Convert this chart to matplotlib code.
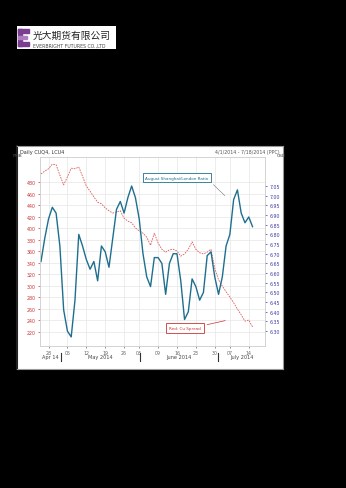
import matplotlib.pyplot as plt
from matplotlib.patches import Rectangle

plt.rcParams['font.family'] = ['DejaVu Sans']

# trading-day index, one point per day
blue_ratio = [6.66, 6.78, 6.88, 6.94, 6.91, 6.74, 6.41, 6.30, 6.27, 6.46,
              6.80, 6.74, 6.67, 6.62, 6.66, 6.56, 6.74, 6.71, 6.63, 6.78,
              6.93, 6.97, 6.91, 6.99, 7.05, 6.99, 6.88, 6.70, 6.58, 6.53,
              6.68, 6.68, 6.65, 6.49, 6.65, 6.70, 6.70, 6.56, 6.36, 6.40,
              6.57, 6.53, 6.46, 6.50, 6.69, 6.71, 6.58, 6.49, 6.58, 6.74,
              6.80, 6.98, 7.03, 6.91, 6.86, 6.89, 6.84]
red_spread = [494, 499, 503, 511, 510, 492, 475, 489, 504, 503,
              506, 490, 473, 464, 454, 445, 442, 435, 430, 426,
              428, 430, 417, 412, 409, 400, 395, 391, 384, 370,
              391, 374, 363, 358, 362, 363, 360, 351, 355, 363,
              376, 363, 357, 355, 358, 363, 330, 310, 299, 289,
              280, 270, 259, 249, 238, 240, 228]

week_ticks = [2, 7, 12, 17, 22, 26, 31, 36, 41, 46, 50, 55]
week_labels = ["28", "05", "12", "19", "26", "03", "09", "16", "23", "30", "07", "14"]
month_names = ["Apr 14", "May 2014", "June 2014", "July 2014"]
month_centers = [2.4, 15.6, 36.5, 53.2]
month_breaks = [5.3, 26.2, 46.8]

left_ticks = [480, 460, 440, 420, 400, 380, 360, 340, 320, 300, 280, 260, 240, 220]
right_ticks = [7.05, 7.00, 6.95, 6.90, 6.85, 6.80, 6.75, 6.70, 6.65, 6.60,
               6.55, 6.50, 6.45, 6.40, 6.35, 6.30]

W, H = 346, 489


def box(l, t, r, b):
    return [l / W, 1 - b / H, (r - l) / W, (b - t) / H]


fig = plt.figure(figsize=(W / 100, H / 100), dpi=100, facecolor='black')

# logo
logo = fig.add_axes(box(17, 27, 116, 50))
logo.set_xlim(0, 99)
logo.set_ylim(23, 0)
logo.set_facecolor('white')
logo.set_xticks([])
logo.set_yticks([])
for s in logo.spines.values():
    s.set_visible(False)
purple = '#7a3d8f'
logo.add_patch(Rectangle((1, 3), 4, 17, color=purple))
logo.add_patch(Rectangle((1, 3), 11, 4, color=purple))
logo.add_patch(Rectangle((1, 9.5), 9, 3.5, color='#b07cc0'))
logo.add_patch(Rectangle((1, 16), 11, 4, color=purple))
logo.text(16, 9, "光大期货有限公司", fontsize=7, color='#222222',
          family=['Noto Sans CJK SC', 'DejaVu Sans'], va='center', ha='left')
logo.text(16, 19, "EVERBRIGHT FUTURES CO.,LTD", fontsize=3.3, color='#444444',
          va='center', ha='left')

# chart panel
panel = fig.add_axes(box(17, 147, 283, 370))
panel.set_facecolor('white')
panel.set_xticks([])
panel.set_yticks([])
for s in panel.spines.values():
    s.set_color('#999999')
    s.set_linewidth(0.8)
panel.spines['left'].set_color('#222222')
panel.spines['left'].set_linewidth(1.5)

fig.text(20 / W, 1 - 152.5 / H, "Daily CUQ4, LCU4", fontsize=3.6, color='#333333',
         va='center', ha='left')
fig.text(280 / W, 1 - 152.5 / H, "4/1/2014 - 7/18/2014 (PPC)", fontsize=3.4,
         color='#555555', va='center', ha='right')

ax = fig.add_axes(box(40, 158, 265, 347))
ax2 = ax.twinx()
days = list(range(len(blue_ratio)))

ax.plot(days, red_spread, color='#e05a5a', lw=0.6, ls=(0, (2, 1.2)))
ax2.plot(days, blue_ratio, color='#1e6f8e', lw=1.0)

ax.set_xlim(-0.26, 59.3)
ax.set_ylim(194.8, 523.5)
ax2.set_ylim(6.223, 7.20)

ax.set_xticks(week_ticks)
ax.set_xticklabels(week_labels)
ax.set_yticks(left_ticks)
ax2.set_yticks(right_ticks)
ax2.set_yticklabels([f"{v:.2f}" for v in right_ticks])

ax.grid(True, color='#e6e6e6', lw=0.5)
ax.tick_params(axis='x', labelsize=3.4, colors='#666666', length=1.5, pad=1.5,
               width=0.5)
ax.tick_params(axis='y', labelsize=3.4, colors='#cc3333', length=1.5, pad=1.5,
               width=0.5)
ax2.tick_params(axis='y', labelsize=3.4, colors='#3a3aa8', length=1.5, pad=1.5,
                width=0.5)
for a in (ax, ax2):
    for s in a.spines.values():
        s.set_color('#d0d0d0')
        s.set_linewidth(0.5)

ax.text(-0.1, 1.0, "RMB", transform=ax.transAxes, fontsize=3.2, color='#444444',
        ha='center', va='bottom')
ax2.text(1.07, 1.0, "USD", transform=ax2.transAxes, fontsize=3.2, color='#444444',
         ha='center', va='bottom')

xform = ax.get_xaxis_transform()
for name, c in zip(month_names, month_centers):
    ax.text(c, -0.058, name, transform=xform, fontsize=3.6, color='#444444',
            ha='center', va='center')
for b in month_breaks:
    ax.plot([b, b], [-0.037, -0.079], transform=xform, color='#333333', lw=0.8,
            clip_on=False)

ax2.annotate("August Shanghai/London Ratio", xy=(49.2, 6.99),
             xytext=(0.609, 0.889), textcoords='axes fraction',
             fontsize=3.0, color='#1e6f8e', ha='center', va='center',
             bbox=dict(boxstyle='square,pad=0.6', fc='white', ec='#1e6f8e', lw=0.6),
             arrowprops=dict(arrowstyle='-', color='#777777', lw=0.4,
                             relpos=(1, 0)))
ax2.annotate("Red: Cu Spread", xy=(49.5, 240), xycoords=ax.transData,
             xytext=(0.644, 0.095), textcoords='axes fraction',
             fontsize=3.0, color='#cc3333', ha='center', va='center',
             bbox=dict(boxstyle='square,pad=0.8', fc='white', ec='#cc3333', lw=0.6),
             arrowprops=dict(arrowstyle='-', color='#cc3333', lw=0.5,
                             relpos=(1, 1)))

fig.savefig("out.png", dpi=100, facecolor='black')
